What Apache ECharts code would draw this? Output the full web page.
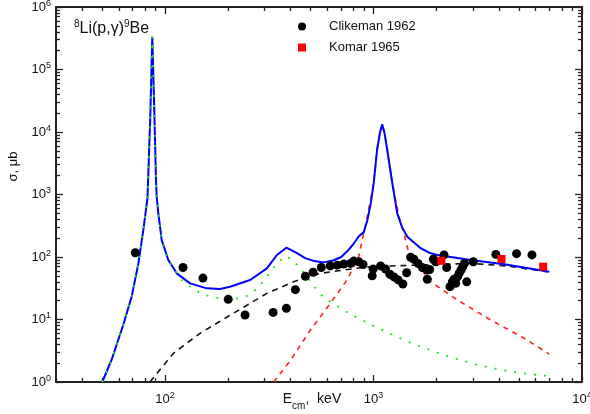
<!DOCTYPE html>
<html><head><meta charset="utf-8">
<script src="https://cdn.jsdelivr.net/npm/echarts@6/dist/echarts.min.js"></script>
<style>html,body{margin:0;padding:0;background:#fff}#c{width:590px;height:414px}</style>
</head><body><div id="c"></div>
<script>
// ---- data (E in keV, sigma in microbarn) ----
const clikemanE = [72,122,152,201,242,330,382,422,471,513,562,620,670,720,775,804,849,891,986,996,1081,1142,1198,1253,1313,1383,1442,1506,1563,1634,1714,1811,1811,1860,1937,1987,2178,2243,2327,2388,2434,2478,2530,2575,2630,2680,2730,2800,3013,3861,4855,5754];
const clikemanS = [117,68,46,21,11.8,13.0,15.1,30,49,57,68,72,74,77,79,86,84,76,50,64,72,64,53,48,43,37,56,99,92,79,68,62,44,63,92,84,108,68,33.5,40,44,38,48,55,62,70,79,40,84,110,113,108];
const komarE = [2115,4111,6513];
const komarS = [87,93,70];

const totalE = [50,55.4,63,69.2,74.5,78.7,82.4,85.0,86.9,89.0,90.5,91.2,92.9,96.4,103.7,113.8,131.9,158.6,183.9,205,256,308,344,382,430,470,520,577,640,700,746,800,850,898,935,970,1002,1040,1072,1101,1130,1164,1231,1300,1370,1453,1683,1880,2023,2925,4235,6966];
const totalS = [1.0,2.25,8.17,23.2,79,270,879,17400,335000,17400,1706,922,500,187,89.5,54.8,37.9,31.5,30.8,33.5,42.9,65.9,107.7,141,115,96,86,82,88,100,122,160,215,250,390,720,1511,5150,9530,13300,9530,5150,1511,500,300,211,138,114.6,107.7,89.5,76.4,58.2];

const resE = [50,55.4,63,69.2,74.5,78.7,82.4,85.0,86.9,89.0,90.5,91.2,92.9,96.4,103.7,120,132,147,164.5,184,201,225,247,271,292,310,330,351,378,411,449,490,532,577,617,760,1002,1453,2178,3156,4560,6710];
const resS = [1.0,2.25,8.17,23.2,79,270,879,17400,335000,17400,1706,922,500,187,88,43,33.5,26.8,23.2,21.8,21,21.8,23.8,29.6,38.8,50.2,65.9,84,103.8,87.3,63.6,44,30.4,22.5,19.5,12.6,7.87,4.42,2.7,1.87,1.46,1.25];

const res2E = [332,399,498,621,746,849,933,1002,1040,1072,1101,1130,1164,1231,1324,1400,1478,1880,2525,3651,5285,6966];
const res2S = [1,2.2,6.79,18.2,42.9,101,442,1511,5150,9530,13300,9530,5150,1511,442,239,114.6,40.3,20.5,9.82,5.0,2.8];

const dcE = [84.7,109.7,147,213,308,414,556,898,1300,1746,2925,4395,6823];
const dcS = [1,2.88,6.0,12.6,26.2,40.3,54.8,68.4,72.6,74.5,79,71.8,58];

const xRange = [30, 10000];
const yRange = [1, 1000000];
const xMajor = [100, 1000, 10000];
const yMajor = [1, 10, 100, 1000, 10000, 100000, 1000000];

// ---- build ----
const L = Math.log10;
function minors(lo, hi) {
  const out = [];
  for (let d = -1; d <= 7; d++) for (let k = 2; k <= 9; k++) {
    const v = k * Math.pow(10, d);
    if (v >= lo && v <= hi) out.push(L(v));
  }
  return out;
}
const zip = (a, b) => a.map((v, i) => [v, b[i]]);
const axisCol = '#222';
const font = 'Liberation Sans, Arial, sans-serif';
const rich = {
  b: {fontSize: 13, fontFamily: font, color: '#111', lineHeight: 16},
  s: {fontSize: 9, fontFamily: font, color: '#111', verticalAlign: 'top', lineHeight: 10}
};
const expFmt = v => '{b|10}{s|' + Math.round(v) + '}';

function tickAxis(kind, pos, vals, len, line, labels, extra) {
  const lo = kind === 'x' ? L(xRange[0]) : L(yRange[0]);
  const hi = kind === 'x' ? L(xRange[1]) : L(yRange[1]);
  return Object.assign({
    type: 'value', min: lo, max: hi, position: pos,
    axisLine: {show: line, onZero: false, lineStyle: {color: axisCol, width: 2}},
    axisTick: {show: true, inside: true, length: len, customValues: vals, lineStyle: {color: axisCol, width: 1.3}},
    axisLabel: labels ? {show: true, customValues: vals, formatter: expFmt, rich: rich, margin: kind === 'x' ? 9 : 5} : {show: false},
    splitLine: {show: false}, minorTick: {show: false}
  }, extra || {});
}

const xMajVals = xMajor.map(L), yMajVals = yMajor.map(L);
const xMinVals = minors(xRange[0], xRange[1]), yMinVals = minors(yRange[0], yRange[1]);
const lineCommon = {showSymbol: false, symbol: 'none', smooth: false};

const option = {
  animation: false,
  backgroundColor: '#fff',
  grid: {left: 56, right: 8, top: 7, bottom: 32, outerBoundsMode: 'none', containLabel: false},
  title: {
    text: '{s|8}{b|Li(p,γ)}{s|9}{b|Be}', left: 69, top: 14,
    textStyle: {fontWeight: 'normal', rich: {
      b: {fontSize: 16, fontFamily: font, color: '#111', lineHeight: 20, fontWeight: 'normal'},
      s: {fontSize: 10, fontFamily: font, color: '#111', verticalAlign: 'top', lineHeight: 12, fontWeight: 'normal'}
    }}
  },
  legend: {
    data: [{name: 'Clikeman 1962', icon: 'circle'}, {name: 'Komar 1965', icon: 'path://M0,0H10V10H0Z'}],
    orient: 'vertical', left: 293, top: 15, itemWidth: 44, itemHeight: 8, itemGap: 8, symbolKeepAspect: true,
    textStyle: {fontSize: 13, fontFamily: font, color: '#111'}
  },
  xAxis: [
    {type: 'log', min: xRange[0], max: xRange[1], show: false, position: 'bottom'},
    tickAxis('x', 'bottom', xMajVals, 7, true, true, {
      name: '{b|E}{sub|cm}{b|,  keV}', nameLocation: 'middle', nameGap: 9, nameMoveOverlap: false,
      nameTextStyle: {rich: {
        b: {fontSize: 14, fontFamily: font, color: '#111', lineHeight: 16},
        sub: {fontSize: 10, fontFamily: font, color: '#111', verticalAlign: 'bottom', lineHeight: 10, padding: [0,0,-4,0]}
      }, verticalAlign: 'top', padding: [0, 14, 0, 0]}
    }),
    tickAxis('x', 'bottom', xMinVals, 4, false, false),
    tickAxis('x', 'top', xMajVals, 7, true, false),
    tickAxis('x', 'top', xMinVals, 4, false, false)
  ],
  yAxis: [
    {type: 'log', min: yRange[0], max: yRange[1], show: false, position: 'left'},
    tickAxis('y', 'left', yMajVals, 7, true, true, {
      name: 'σ, μb', nameLocation: 'middle', nameGap: 36, nameMoveOverlap: false,
      nameTextStyle: {fontSize: 13, fontFamily: font, color: '#111', padding: [0, 0, 0, 56]}
    }),
    tickAxis('y', 'left', yMinVals, 4, false, false),
    tickAxis('y', 'right', yMajVals, 7, true, false),
    tickAxis('y', 'right', yMinVals, 4, false, false)
  ],
  series: [
    Object.assign({name: 'direct', type: 'line', data: zip(dcE, dcS), z: 2,
     lineStyle: {color: '#111', width: 1.6, type: [6, 5]}}, lineCommon),
    Object.assign({name: 'res2', type: 'line', data: zip(res2E, res2S), z: 2,
     lineStyle: {color: '#ff2222', width: 1.6, type: [5, 5]}}, lineCommon),
    Object.assign({name: 'total', type: 'line', data: zip(totalE, totalS), z: 3,
     lineStyle: {color: '#0000ff', width: 2}}, lineCommon),
    Object.assign({name: 'res1', type: 'line', data: zip(resE, resS), z: 4,
     lineStyle: {color: '#22e022', width: 1.8, type: [2, 8]}}, lineCommon),
    {name: 'Clikeman 1962', type: 'scatter', data: zip(clikemanE, clikemanS), symbol: 'circle', symbolSize: 9, z: 5,
     itemStyle: {color: '#000', opacity: 1}},
    {name: 'Komar 1965', type: 'scatter', data: zip(komarE, komarS), symbol: 'rect', symbolSize: 8, z: 5,
     itemStyle: {color: '#ff0000', opacity: 1}}
  ]
};
const chart = echarts.init(document.getElementById('c'), null, {renderer: 'canvas'});
chart.setOption(option);
</script></body></html>
